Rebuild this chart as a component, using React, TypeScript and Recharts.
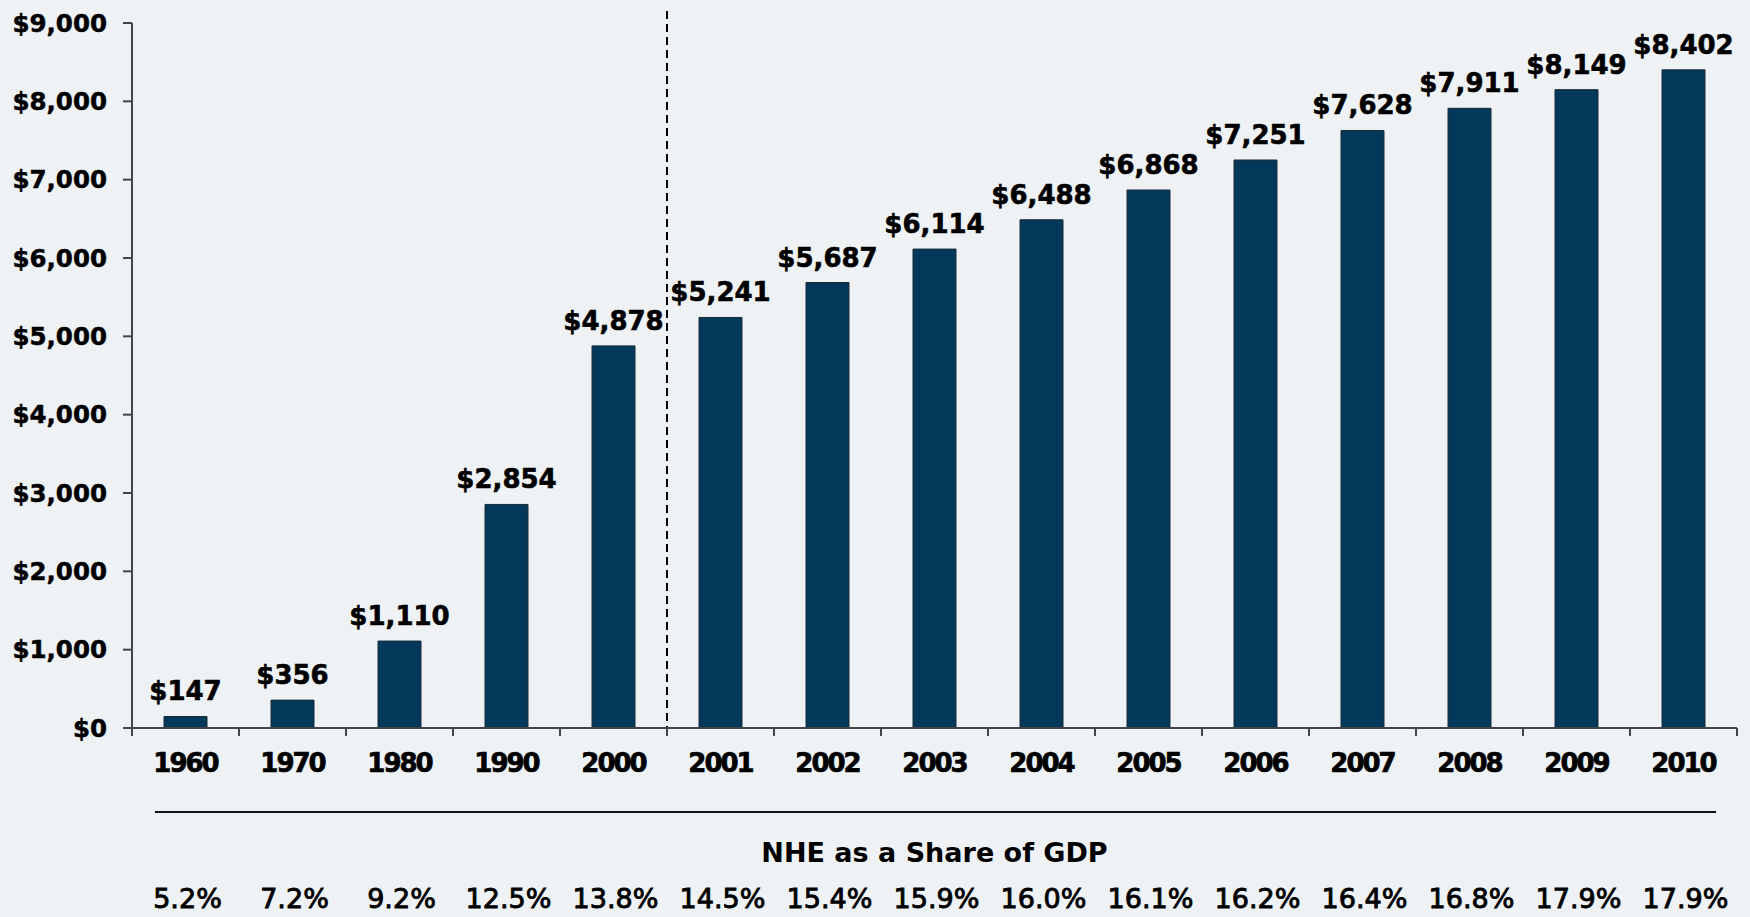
import React from 'react';
import { BarChart, Bar, XAxis, YAxis, LabelList, ReferenceLine } from 'recharts';

const years = [
  '1960', '1970', '1980', '1990', '2000', '2001', '2002', '2003',
  '2004', '2005', '2006', '2007', '2008', '2009', '2010',
];
// per capita national health expenditure, dollars
const spending = [147, 356, 1110, 2854, 4878, 5241, 5687, 6114, 6488, 6868, 7251, 7628, 7911, 8149, 8402];
// NHE as a share of GDP, percent
const gdpShare = [5.2, 7.2, 9.2, 12.5, 13.8, 14.5, 15.4, 15.9, 16.0, 16.1, 16.2, 16.4, 16.8, 17.9, 17.9];
const yTicks = [0, 1000, 2000, 3000, 4000, 5000, 6000, 7000, 8000, 9000];

const data = years.map((year, i) => ({ year, spending: spending[i], share: gdpShare[i] }));

const FONT = '"DejaVu Sans", Verdana, sans-serif';
const BG = '#eef2f5';
const BAR = '#02395b';
const AXIS = '#444';

const dollars = (v: number) => `$${Number(v).toLocaleString('en-US')}`;

// year label + GDP share under each band, tick marks on band edges
const YearTick = (props: any) => {
  const { x, y, payload } = props;
  const half = payload.offset || 53.5;
  const i = payload.index ?? years.indexOf(payload.value);
  const isLast = i === years.length - 1;
  return (
    <g>
      <line x1={x - half} y1={y} x2={x - half} y2={y + 8} stroke={AXIS} strokeWidth={2} />
      {isLast && <line x1={x + half} y1={y} x2={x + half} y2={y + 8} stroke={AXIS} strokeWidth={2} />}
      <text
        x={x}
        y={y + 35}
        textAnchor="middle"
        dominantBaseline="central"
        fontFamily={FONT}
        fontWeight="bold"
        fontSize={26}
        letterSpacing={-2}
        fill="#000"
        stroke="#000"
        strokeWidth={0.7}
      >
        {payload.value}
      </text>
      <text
        x={x + 2}
        y={y + 170}
        textAnchor="middle"
        dominantBaseline="central"
        fontFamily={FONT}
        fontSize={27}
        fill="#000"
        stroke="#000"
        strokeWidth={0.9}
      >
        {gdpShare[i].toFixed(1)}%
      </text>
    </g>
  );
};

const ShareTitle = (props: any) => {
  const { x, y, width } = props.viewBox;
  return (
    <g>
      <line x1={x + 23} x2={x + width - 21} y1={y + 84} y2={y + 84} stroke="#111" strokeWidth={2} />
      <text
        x={x + width / 2}
        y={y + 124}
        textAnchor="middle"
        dominantBaseline="central"
        fontFamily={FONT}
        fontWeight="bold"
        fontSize={27}
        fill="#000"
      >
        NHE as a Share of GDP
      </text>
    </g>
  );
};

const DividerLine = (props: any) => {
  const { x1, y1, x2, y2 } = props;
  const top = Math.min(y1, y2);
  const bottom = Math.max(y1, y2);
  return (
    <line x1={x1} x2={x2} y1={top - 12} y2={bottom} stroke="#000" strokeWidth={2} strokeDasharray="8 5" />
  );
};

const App: React.FC = () => {
  return (
    <div style={{ position: 'absolute', left: 0, top: 0, width: 1750, height: 917, background: BG }}>
      <BarChart
        width={1750}
        height={917}
        data={data}
        margin={{ top: 23, right: 13, left: 0, bottom: 0 }}
        style={{ fontFamily: FONT }}
      >
        <XAxis
          dataKey="year"
          height={189}
          axisLine={{ stroke: AXIS, strokeWidth: 2 }}
          tickLine={false}
          tickSize={0}
          tickMargin={0}
          interval={0}
          tick={YearTick}
          label={{ content: ShareTitle }}
        />
        <YAxis
          width={132}
          domain={[0, 9000]}
          ticks={yTicks}
          tickFormatter={dollars}
          axisLine={{ stroke: AXIS, strokeWidth: 2 }}
          tickLine={{ stroke: AXIS, strokeWidth: 2 }}
          tickSize={9}
          tickMargin={16}
          tick={{ fill: '#000', stroke: '#000', strokeWidth: 0.5, fontSize: 24.5, fontWeight: 'bold', fontFamily: FONT }}
        />
        <ReferenceLine x="2000" position="end" shape={DividerLine} />
        <Bar
          dataKey="spending"
          fill={BAR}
          stroke="#1c2b36"
          strokeWidth={1}
          barSize={43}
          isAnimationActive={false}
        >
          <LabelList
            dataKey="spending"
            position="top"
            offset={16}
            formatter={dollars}
            fill="#000"
            stroke="#000"
            strokeWidth={0.6}
            fontSize={26}
            fontWeight="bold"
            fontFamily={FONT}
          />
        </Bar>
      </BarChart>
    </div>
  );
};

export default App;
